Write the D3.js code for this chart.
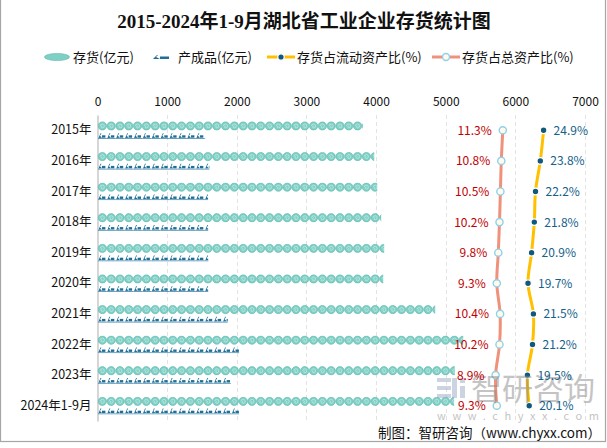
<!DOCTYPE html>
<html><head><meta charset="utf-8">
<script src="https://cdn.jsdelivr.net/npm/d3@7"></script>
<style>body{margin:0;background:#fff}svg{display:block}</style>
</head><body>
<svg id="c" width="607" height="448"></svg>
<script>
const categories = ["2015年","2016年","2017年","2018年","2019年","2020年","2021年","2022年","2023年","2024年1-9月"];
const inventory = [3810, 3973, 4016, 4073, 4116, 4102, 4849, 5251, 5130, 5120];
const products = [1545, 1606, 1588, 1590, 1592, 1590, 1870, 2033, 1914, 2033];
const ratioCurrent = [24.9, 23.8, 22.2, 21.8, 20.9, 19.7, 21.5, 21.2, 19.5, 20.1];
const ratioTotal = [11.3, 10.8, 10.5, 10.2, 9.8, 9.3, 10.4, 10.2, 8.9, 9.3];
const xTicks = [0,1000,2000,3000,4000,5000,6000,7000];
const seriesNames = ["存货(亿元)","产成品(亿元)","存货占流动资产比(%)","存货占总资产比(%)"];
const title = "2015-2024年1-9月湖北省工业企业存货统计图";
const footer = "制图：智研咨询（www.chyxx.com）";

const svg = d3.select("#c");
const FONT = "'Noto Sans CJK SC','Noto Sans',sans-serif";
const defs = svg.append("defs");

const x = d3.scaleLinear().domain([0,7000]).range([97.5,585]);
const px = d3.scaleLinear().domain([-123.8,38.7]).range([97.5,585]);
const y = d3.scaleBand().domain(categories).range([115,421]).padding(0);
const cy = c => y(c) + y.bandwidth()/2;

// border
svg.append("rect").attr("x",0.5).attr("y",-1).attr("width",605).attr("height",442.5)
  .attr("fill","none").attr("stroke","#a6a6a6").attr("stroke-width",1.2);

// title
svg.append("text").attr("x",304).attr("y",28).attr("text-anchor","middle")
  .attr("font-family","'Liberation Serif','Noto Sans CJK SC',serif").attr("font-weight","bold")
  .attr("font-size",19).attr("fill","#111").text(title);

// gridlines
svg.append("g").selectAll("line").data(xTicks.slice(1)).join("line")
  .attr("x1",d=>Math.round(x(d))+0.5).attr("x2",d=>Math.round(x(d))+0.5)
  .attr("y1",115).attr("y2",421).attr("stroke","#e3e3e3").attr("stroke-dasharray","4,3");

// x axis labels (top)
const xAxis = d3.axisTop(x).tickValues(xTicks).tickFormat(d3.format("d")).tickSize(0).tickPadding(0);
const gx = svg.append("g").attr("transform","translate(0,106)").call(xAxis);
gx.select(".domain").remove();
gx.selectAll("text").attr("font-family",FONT).attr("font-size",12).attr("fill","#111");

// y axis
const yAxis = d3.axisLeft(y).tickSize(0).tickPadding(6);
const gy = svg.append("g").attr("transform","translate(97.5,0)").call(yAxis);
gy.select(".domain").attr("stroke","#c8c8c8").attr("stroke-width",1.5);
gy.selectAll("text").attr("font-family",FONT).attr("font-size",12.5).attr("fill","#111");

function invTile(g, x0, y0, w, h){
  const step = 8.8, r = h/2;
  const n = Math.ceil(w/step);
  for(let i=0;i<n;i++){
    const cx0 = x0 + i*step + r;
    g.append("circle").attr("cx",cx0).attr("cy",y0+r).attr("r",r-0.2)
      .attr("fill","#7fcfc5").attr("stroke","#5db9ae").attr("stroke-width",0.6);
    g.append("path").attr("d",`M${cx0-2},${y0+r} a2,2 0 1,1 2,2 a1,1 0 1,1 0,-2`)
      .attr("fill","none").attr("stroke","#b8e8e2").attr("stroke-width",0.9);
  }
}
function prodTile(g, x0, y0, w, h){
  const step = 8.9;
  const n = Math.ceil(w/step);
  for(let i=0;i<n;i++){
    const a = x0 + i*step;
    g.append("path").attr("d",`M${a+0.5},${y0+h-1} L${a+2.5},${y0+0.5} L${a+3.5},${y0+0.5} L${a+2},${y0+3} L${a+4},${y0+h-1.2} Z`)
      .attr("fill","#1f6f98");
    g.append("rect").attr("x",a+4).attr("y",y0+2.6).attr("width",3.4).attr("height",2.4).attr("fill","#1f6f98");
    g.append("rect").attr("x",a).attr("y",y0+h-0.8).attr("width",step).attr("height",0.8).attr("fill","#3f86ab");
  }
}
const bars = svg.append("g");
categories.forEach((c,i)=>{
  const yc = cy(c);
  const w1 = x(inventory[i]) - x(0);
  const id1 = "ci"+i;
  defs.append("clipPath").attr("id",id1).append("rect")
    .attr("x",x(0)).attr("y",yc-9).attr("width",w1).attr("height",9.5);
  const g1 = bars.append("g").attr("clip-path",`url(#${id1})`);
  invTile(g1, x(0)+0.5, yc-8.7, w1, 8.7);
  const w2 = x(products[i]) - x(0);
  const id2 = "cp"+i;
  defs.append("clipPath").attr("id",id2).append("rect")
    .attr("x",x(0)).attr("y",yc+2).attr("width",w2).attr("height",7);
  const g2 = bars.append("g").attr("clip-path",`url(#${id2})`);
  prodTile(g2, x(0)+0.5, yc+2.4, w2, 6.2);
});

// lines
const lineGen = d3.line().curve(d3.curveCatmullRom.alpha(0.5));
const ptsTotal = categories.map((c,i)=>[px(ratioTotal[i]), cy(c)]);
const ptsCur = categories.map((c,i)=>[px(ratioCurrent[i]), cy(c)]);
svg.append("path").attr("d",lineGen(ptsTotal)).attr("fill","none")
  .attr("stroke","#f0917b").attr("stroke-width",3);
svg.append("path").attr("d",lineGen(ptsCur)).attr("fill","none")
  .attr("stroke","#ffc000").attr("stroke-width",3);

svg.append("g").selectAll("circle").data(ptsTotal).join("circle")
  .attr("cx",d=>d[0]).attr("cy",d=>d[1]).attr("r",3.6)
  .attr("fill","#fffbe8").attr("stroke","#8fd0ee").attr("stroke-width",1.4);
svg.append("g").selectAll("circle").data(ptsCur).join("circle")
  .attr("cx",d=>d[0]).attr("cy",d=>d[1]).attr("r",3.3)
  .attr("fill","#0f5a7c").attr("stroke","#fff").attr("stroke-width",1.2);

// watermark (drawn under labels)
const wm = svg.append("g").attr("opacity",0.5);
[[437,378,14,4],[437,386,14,4],[437,394,14,4],[452,378,5,20],[460,386,5,12],[460,378,5,5]].forEach(r=>{
  wm.append("rect").attr("x",r[0]).attr("y",r[1]).attr("width",r[2]).attr("height",r[3]).attr("fill","#9aa9c4");
});
wm.append("text").attr("x",471).attr("y",400).attr("font-family",FONT).attr("font-size",31)
  .attr("fill","#8a8a8a").text("智研咨询");
wm.append("text").attr("x",437).attr("y",420).attr("font-family",FONT).attr("font-size",11)
  .attr("fill","#8a8a8a").attr("letter-spacing",6.6).text("www.chyxx.com");

// labels
svg.append("g").selectAll("text").data(categories).join("text")
  .attr("x",(c,i)=>px(ratioTotal[i])-11).attr("y",c=>cy(c)+4.5)
  .attr("text-anchor","end").attr("font-family",FONT).attr("font-size",12)
  .attr("fill","#c00000").text((c,i)=>ratioTotal[i].toFixed(1)+"%");
svg.append("g").selectAll("text").data(categories).join("text")
  .attr("x",(c,i)=>px(ratioCurrent[i])+10).attr("y",c=>cy(c)+4.5)
  .attr("text-anchor","start").attr("font-family",FONT).attr("font-size",12)
  .attr("fill","#14618a").text((c,i)=>ratioCurrent[i].toFixed(1)+"%");

// legend
const lg = svg.append("g").attr("font-family",FONT).attr("font-size",13).attr("fill","#111");
const ly = 57;
lg.append("ellipse").attr("cx",57).attr("cy",ly).attr("rx",12.5).attr("ry",3.6).attr("fill","#7fcfc5").attr("stroke","#5db9ae").attr("stroke-width",0.6);
lg.append("text").attr("x",73).attr("y",ly+4.5).text(seriesNames[0]);
lg.append("path").attr("d",`M153,${ly+2} L157,${ly-2} L158,${ly-2} L156,${ly} L160,${ly+2} Z`).attr("fill","#1f6f98");
lg.append("rect").attr("x",160).attr("y",ly-0.5).attr("width",9).attr("height",2.5).attr("fill","#1f6f98");
lg.append("text").attr("x",178).attr("y",ly+4.5).text(seriesNames[1]);
lg.append("line").attr("x1",267).attr("x2",295).attr("y1",ly).attr("y2",ly).attr("stroke","#ffc000").attr("stroke-width",3);
lg.append("circle").attr("cx",281).attr("cy",ly).attr("r",3.2).attr("fill","#0f5a7c").attr("stroke","#fff").attr("stroke-width",1.2);
lg.append("text").attr("x",297).attr("y",ly+4.5).text(seriesNames[2]);
lg.append("line").attr("x1",432).attr("x2",460).attr("y1",ly).attr("y2",ly).attr("stroke","#f0917b").attr("stroke-width",3);
lg.append("circle").attr("cx",446).attr("cy",ly).attr("r",3.5).attr("fill","#fffbe8").attr("stroke","#8fd0ee").attr("stroke-width",1.4);
lg.append("text").attr("x",462).attr("y",ly+4.5).text(seriesNames[3]);

// footer
svg.append("text").attr("x",601).attr("y",438).attr("text-anchor","end")
  .attr("font-family",FONT).attr("font-size",13.5).attr("fill","#111").text(footer);
</script>
</body></html>
